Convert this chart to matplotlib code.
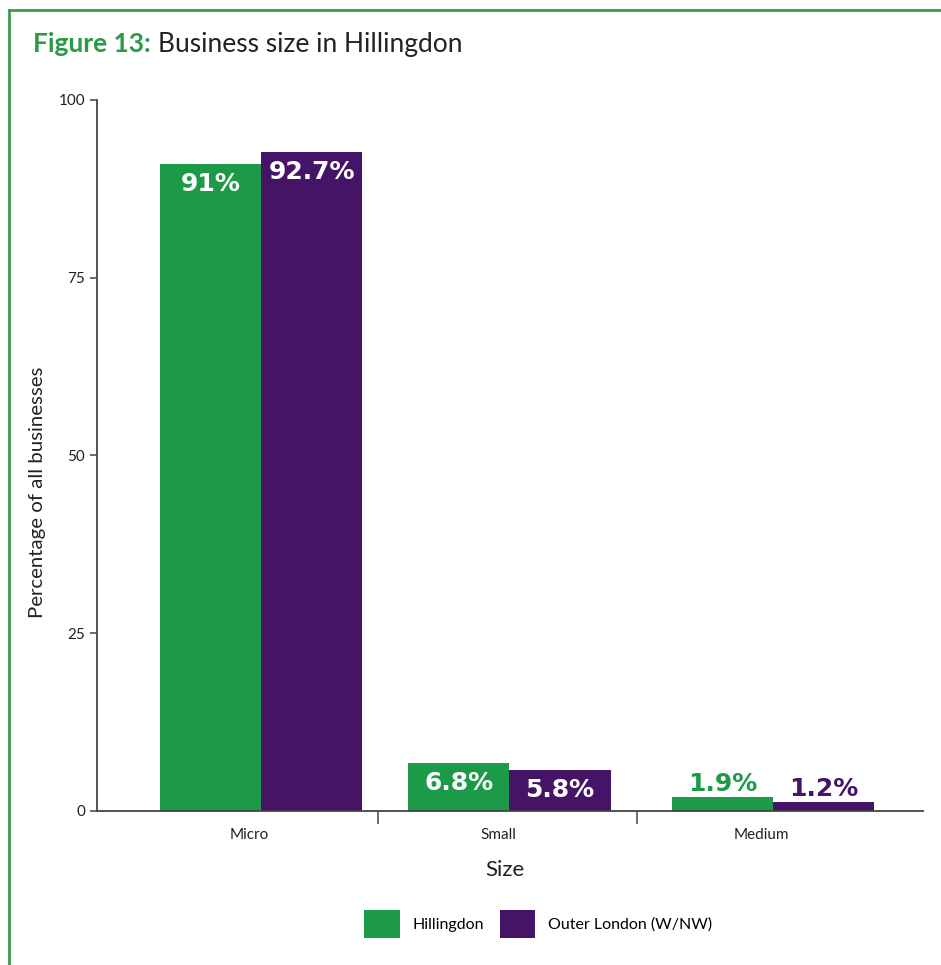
import matplotlib
matplotlib.use("Agg")
import matplotlib.pyplot as plt
from matplotlib.lines import Line2D

plt.rcParams['font.family'] = ['Lato', 'DejaVu Sans']

# business size shares (% of all businesses)
sizes = ["Micro", "Small", "Medium"]
hillingdon = [91, 6.8, 1.9]
outer_london = [92.7, 5.8, 1.2]
series_names = ["Hillingdon", "Outer London (W/NW)"]
yticks = [0, 25, 50, 75, 100]

green = "#1d9a48"
purple = "#461466"
frame_green = "#3d9c4c"
axis_col = "#444444"
text_col = "#222222"

# group centres along the x axis
xs = [0, 0.97, 2.0]
w = 0.395

fig = plt.figure(figsize=(9.41, 9.65), dpi=100)
ax = fig.add_axes([0.1031, 0.1596, 0.981 - 0.1031, 0.8964 - 0.1596])

bars_h = ax.bar([x - w / 2 for x in xs], hillingdon, width=w, color=green, label=series_names[0])
bars_o = ax.bar([x + w / 2 for x in xs], outer_london, width=w, color=purple, label=series_names[1])

# value labels: inside the tall bars, above the short ones
for bars, vals, col in [(bars_h, hillingdon, green), (bars_o, outer_london, purple)]:
	for b, v in zip(bars, vals):
		cx = b.get_x() + b.get_width() / 2
		txt = f"{v:g}%"
		if v >= 5:
			ax.annotate(txt, (cx, v), xytext=(0, -6), textcoords="offset points",
				ha="center", va="top", color="white", fontsize=18, fontweight="bold",
				family="DejaVu Sans")
		else:
			ax.annotate(txt, (cx, v), xytext=(0, 1), textcoords="offset points",
				ha="center", va="bottom", color=col, fontsize=18, fontweight="bold",
				family="DejaVu Sans")

ax.set_xlim(-0.641, 2.586)
ax.set_ylim(0, 100)
ax.set_yticks(yticks)
ax.set_yticklabels([str(t) for t in yticks])

ax.set_xticks([x - 0.045 for x in xs])
ax.set_xticklabels(sizes)
ax.set_xticks([0.457, 1.469], minor=True)
ax.tick_params(axis="x", which="major", length=0, pad=12, labelsize=11, colors=text_col)
ax.tick_params(axis="x", which="minor", length=9, width=1.1, color=axis_col, direction="out")
ax.tick_params(axis="y", length=5, width=1.1, color=axis_col, labelsize=11, labelcolor=text_col)

for s in ["top", "right"]:
	ax.spines[s].set_visible(False)
for s in ["left", "bottom"]:
	ax.spines[s].set_color(axis_col)
	ax.spines[s].set_linewidth(1.3)

ax.set_xlabel("Size", fontsize=16, color=text_col)
ax.xaxis.set_label_coords((505 - 97) / 826, -(860 - 811) / 711)
ax.set_ylabel("Percentage of all businesses", fontsize=14.7, color=text_col)
ax.yaxis.set_label_coords(-(97 - 46) / 826, 1 - (492 - 100) / 711)

ax.legend(loc="upper center", bbox_to_anchor=(0.534, -0.119), ncol=2, frameon=False,
	fontsize=11.5, handlelength=2.2, handleheight=2.3, columnspacing=1.0, handletextpad=0.8)

# title in two parts: green bold figure number, then the plain caption
t1 = fig.text(33 / 941, 1 - 52 / 965, "Figure 13:", color="#2a9a47", fontsize=19,
	fontweight="bold", ha="left", va="baseline")
fig.canvas.draw()
bb = t1.get_window_extent()
fig.text((bb.x1 + 7) / 941, 1 - 52 / 965, "Business size in Hillingdon", color=text_col,
	fontsize=19, ha="left", va="baseline")

# green frame along the top and left edge
fig.add_artist(Line2D([8.5 / 941, 1.0], [1 - 10 / 965, 1 - 10 / 965], color=frame_green, lw=2.0))
fig.add_artist(Line2D([8.5 / 941, 8.5 / 941], [0, 1 - 10 / 965], color=frame_green, lw=2.0))

fig.savefig("out.png", dpi=100)
